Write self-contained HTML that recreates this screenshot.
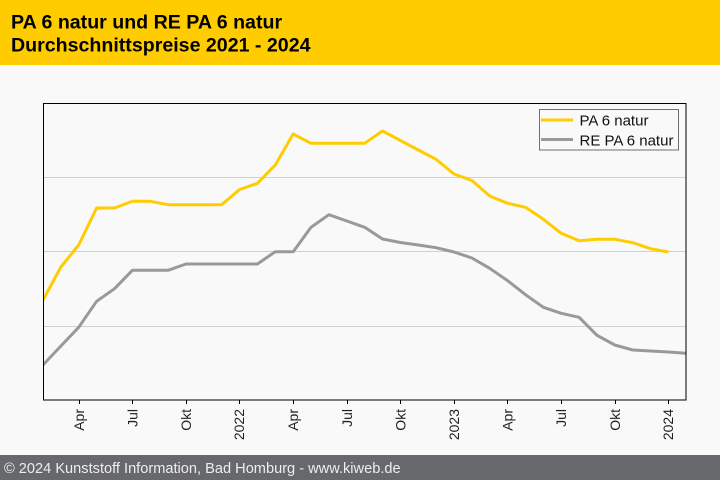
<!DOCTYPE html>
<html><head><meta charset="utf-8"><style>
html,body{margin:0;padding:0;background:#f9f9f9;}
svg{display:block;}
</style></head><body>
<svg width="720" height="480" viewBox="0 0 720 480" xmlns="http://www.w3.org/2000/svg" font-family="'Liberation Sans', Arial, sans-serif">
<rect x="0" y="0" width="720" height="480" fill="#f9f9f9"/>
<rect x="0" y="0" width="720" height="65" fill="#ffcc00"/>
<text x="11" y="28.3" font-size="19.6" font-weight="bold" fill="#000">PA 6 natur und RE PA 6 natur</text>
<text x="11" y="51.7" font-size="19.6" font-weight="bold" fill="#000">Durchschnittspreise 2021 - 2024</text>

<g stroke="#d0d0d0" stroke-width="1">
<line x1="43" y1="177.5" x2="686" y2="177.5"/>
<line x1="43" y1="251.5" x2="686" y2="251.5"/>
<line x1="43" y1="326.5" x2="686" y2="326.5"/>
</g>

<defs><clipPath id="c"><rect x="43" y="103" width="643" height="297"/></clipPath></defs>
<g clip-path="url(#c)" fill="none" stroke-width="3" stroke-linejoin="round">
<polyline stroke="#999999" points="43,365 60.9,346 78.7,327.3 96.6,301.3 114.5,288.7 132.4,270.3 150.2,270.3 168.1,270.3 186,264 203.8,264 221.7,264 239.6,264 257.4,264 275.3,251.7 293.2,251.7 311,227.3 328.9,214.7 346.8,221 364.7,227.3 382.5,239 400.4,242.5 418.3,245 436.1,247.7 454,252 471.9,258 489.7,268.3 507.6,280.7 525.5,294.7 543.4,307.3 561.2,313.3 579.1,317.3 597,335.3 614.8,345 632.7,350 650.6,351 668.4,352 686,353.3"/>
<polyline stroke="#ffcc00" points="43,300 60.9,267 78.7,245 96.6,208 114.5,208 132.4,201.3 150.2,201.3 168.1,204.7 186,204.7 203.8,204.7 221.7,204.7 239.6,189.5 257.4,183.3 275.3,165 293.2,134 311,143.3 328.9,143.3 346.8,143.3 364.7,143.3 382.5,131 400.4,140.5 418.3,150 436.1,159.3 454,174 471.9,180.5 489.7,196 507.6,203.3 525.5,207.3 543.4,219.3 561.2,233.3 579.1,240.7 597,239.3 614.8,239.3 632.7,242.7 650.6,248.7 668.4,252"/>
</g>

<rect x="43.5" y="103.5" width="642.5" height="296.5" fill="none" stroke="#000" stroke-width="1"/>

<g stroke="#000" stroke-width="1">
<line x1="79.5" y1="400" x2="79.5" y2="404"/>
<line x1="132.5" y1="400" x2="132.5" y2="404"/>
<line x1="186.5" y1="400" x2="186.5" y2="404"/>
<line x1="239.5" y1="400" x2="239.5" y2="404"/>
<line x1="293.5" y1="400" x2="293.5" y2="404"/>
<line x1="347.5" y1="400" x2="347.5" y2="404"/>
<line x1="400.5" y1="400" x2="400.5" y2="404"/>
<line x1="454.5" y1="400" x2="454.5" y2="404"/>
<line x1="507.5" y1="400" x2="507.5" y2="404"/>
<line x1="561.5" y1="400" x2="561.5" y2="404"/>
<line x1="615.5" y1="400" x2="615.5" y2="404"/>
<line x1="668.5" y1="400" x2="668.5" y2="404"/>
</g>
<g font-size="14" fill="#222" text-anchor="end">
<text transform="translate(84,409) rotate(-90)">Apr</text>
<text transform="translate(137.5,409) rotate(-90)">Jul</text>
<text transform="translate(191,409) rotate(-90)">Okt</text>
<text transform="translate(244,409) rotate(-90)">2022</text>
<text transform="translate(298,409) rotate(-90)">Apr</text>
<text transform="translate(352,409) rotate(-90)">Jul</text>
<text transform="translate(405.5,409) rotate(-90)">Okt</text>
<text transform="translate(459,409) rotate(-90)">2023</text>
<text transform="translate(512.5,409) rotate(-90)">Apr</text>
<text transform="translate(566,409) rotate(-90)">Jul</text>
<text transform="translate(620,409) rotate(-90)">Okt</text>
<text transform="translate(673,409) rotate(-90)">2024</text>
</g>

<rect x="539.5" y="109.5" width="139" height="40.5" fill="#f9f9f9" stroke="#707070" stroke-width="1"/>
<line x1="541" y1="120" x2="573" y2="120" stroke="#ffcc00" stroke-width="3"/>
<line x1="541" y1="139.5" x2="573" y2="139.5" stroke="#999999" stroke-width="3"/>
<text x="579.5" y="125.5" font-size="15" fill="#111">PA 6 natur</text>
<text x="579.5" y="145.5" font-size="15" fill="#111">RE PA 6 natur</text>

<rect x="0" y="455" width="720" height="25" fill="#67686c"/>
<text x="4" y="473" font-size="14.6" fill="#eeeeee">© 2024 Kunststoff Information, Bad Homburg - www.kiweb.de</text>
</svg>
</body></html>
